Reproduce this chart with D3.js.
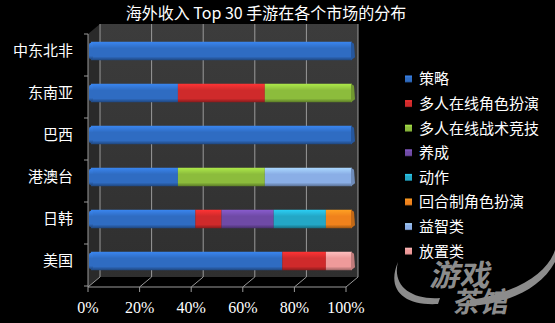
<!DOCTYPE html>
<html lang="zh">
  <head>
    <meta charset="UTF-8" />
    <title>海外收入 Top 30 手游在各个市场的分布</title>
    <style type="text/css">
      html,
      body {
        margin: 0;
        padding: 0;
        background: #000;
      }
      svg {
        display: block;
      }
      .cn {
        font-family: "Noto Sans CJK SC", "Noto Sans", sans-serif;
      }
    </style>
  </head>
  <body>
    <div id="chart"></div>
    <script src="https://cdn.jsdelivr.net/npm/d3@7/dist/d3.min.js"></script>
    <script>
      // === Data === //

      var markets = ["中东北非", "东南亚", "巴西", "港澳台", "日韩", "美国"];
      var genres = [
        "策略",
        "多人在线角色扮演",
        "多人在线战术竞技",
        "养成",
        "动作",
        "回合制角色扮演",
        "益智类",
        "放置类"
      ];
      var colours = [
        "#2f6cc2",
        "#cf2a2b",
        "#8cbc3c",
        "#6f4aa6",
        "#23a7c6",
        "#f0821c",
        "#8aaee6",
        "#ee9a9a"
      ];
      // share of each genre per market, in %, same order as genres
      var shares = [
        [100, 0, 0, 0, 0, 0, 0, 0],
        [33.3, 33.3, 33.4, 0, 0, 0, 0, 0],
        [100, 0, 0, 0, 0, 0, 0, 0],
        [33.3, 0, 33.3, 0, 0, 0, 33.4, 0],
        [40, 10, 0, 20, 20, 10, 0, 0],
        [73.3, 16.7, 0, 0, 0, 0, 0, 10]
      ];
      var ticks = [0, 20, 40, 60, 80, 100];

      // === Layout === //

      var width = 555,
        height = 323;
      var front = { x0: 88, x1: 346, bottom: 287, top: 34 };
      var depth = { dx: 12, dy: -10 };

      var svg = d3
        .select("#chart")
        .append("svg")
        .attr("width", width)
        .attr("height", height);

      var defs = svg.append("defs");

      colours.forEach(function(c, i) {
        var g = defs
          .append("linearGradient")
          .attr("id", "grad" + i)
          .attr("x1", 0)
          .attr("y1", 0)
          .attr("x2", 0)
          .attr("y2", 1);
        g.append("stop").attr("offset", "0%").attr("stop-color", d3.color(c).brighter(0.6));
        g.append("stop").attr("offset", "35%").attr("stop-color", c);
        g.append("stop").attr("offset", "80%").attr("stop-color", c);
        g.append("stop").attr("offset", "100%").attr("stop-color", d3.color(c).darker(1.2));
      });

      var wallGrad = defs
        .append("linearGradient")
        .attr("id", "wall")
        .attr("x1", 0)
        .attr("y1", 0)
        .attr("x2", 0)
        .attr("y2", 1);
      wallGrad.append("stop").attr("offset", "0%").attr("stop-color", "#3c3c3c");
      wallGrad.append("stop").attr("offset", "100%").attr("stop-color", "#2f2f2f");

      // scales
      var xFront = d3.scaleLinear().domain([0, 100]).range([front.x0, front.x1]);
      var xBar = d3.scaleLinear().domain([0, 100]).range([91, 352]);
      var y = d3
        .scaleBand()
        .domain(markets)
        .range([30, 282])
        .paddingInner(0.56)
        .paddingOuter(0.28);

      // === Walls === //

      var backTop = front.top + depth.dy;
      var backBottom = front.bottom + depth.dy;

      svg
        .append("rect")
        .attr("x", front.x0 + depth.dx)
        .attr("y", backTop)
        .attr("width", front.x1 - front.x0)
        .attr("height", backBottom - backTop)
        .attr("fill", "url(#wall)");

      svg
        .append("path")
        .attr(
          "d",
          "M" + front.x0 + "," + front.top +
            "L" + (front.x0 + depth.dx) + "," + backTop +
            "L" + (front.x0 + depth.dx) + "," + backBottom +
            "L" + front.x0 + "," + front.bottom + "Z"
        )
        .attr("fill", "#2a2a2a");

      // gridlines on back wall
      svg
        .selectAll("line.grid")
        .data(ticks)
        .enter()
        .append("line")
        .attr("class", "grid")
        .attr("x1", function(d) { return xFront(d) + depth.dx; })
        .attr("x2", function(d) { return xFront(d) + depth.dx; })
        .attr("y1", backTop)
        .attr("y2", backBottom)
        .attr("stroke", "#9a9a9a")
        .attr("stroke-width", 1);

      // floor lines
      svg
        .selectAll("line.floor")
        .data(ticks)
        .enter()
        .append("line")
        .attr("class", "floor")
        .attr("x1", function(d) { return xFront(d); })
        .attr("y1", front.bottom)
        .attr("x2", function(d) { return xFront(d) + depth.dx; })
        .attr("y2", backBottom)
        .attr("stroke", "#9a9a9a");

      svg
        .selectAll("line.ftick")
        .data(ticks)
        .enter()
        .append("line")
        .attr("class", "ftick")
        .attr("x1", function(d) { return xFront(d); })
        .attr("y1", front.bottom)
        .attr("x2", function(d) { return xFront(d); })
        .attr("y2", front.bottom + 5)
        .attr("stroke", "#9a9a9a");

      svg
        .append("line")
        .attr("x1", front.x0)
        .attr("x2", front.x1)
        .attr("y1", front.bottom)
        .attr("y2", front.bottom)
        .attr("stroke", "#9a9a9a");

      // left axis
      svg
        .append("line")
        .attr("x1", front.x0)
        .attr("x2", front.x0)
        .attr("y1", front.top)
        .attr("y2", front.bottom)
        .attr("stroke", "#9a9a9a");

      var bounds = markets.map(function(m) { return y(m) - (y.step() - y.bandwidth()) / 2; });
      bounds.push(282);
      svg
        .selectAll("line.ytick")
        .data(bounds)
        .enter()
        .append("line")
        .attr("class", "ytick")
        .attr("x1", front.x0 - 4)
        .attr("x2", front.x0)
        .attr("y1", function(d) { return d + 4; })
        .attr("y2", function(d) { return d + 4; })
        .attr("stroke", "#9a9a9a");

      // === Bars === //

      var stacked = [];
      shares.forEach(function(row, mi) {
        var acc = 0;
        var last = -1;
        row.forEach(function(v, gi) { if (v > 0) last = gi; });
        row.forEach(function(v, gi) {
          if (v > 0) {
            stacked.push({ market: markets[mi], genre: gi, x0: acc, x1: acc + v, last: gi === last });
            acc += v;
          }
        });
      });

      var bars = svg.append("g");

      bars
        .selectAll("rect")
        .data(stacked)
        .enter()
        .append("rect")
        .attr("x", function(d) { return xBar(d.x0); })
        .attr("y", function(d) { return y(d.market); })
        .attr("width", function(d) { return xBar(d.x1) - xBar(d.x0); })
        .attr("height", y.bandwidth())
        .attr("fill", function(d) { return "url(#grad" + d.genre + ")"; });

      // rounded end caps
      bars
        .selectAll("path.cap")
        .data(stacked.filter(function(d) { return d.last; }))
        .enter()
        .append("path")
        .attr("class", "cap")
        .attr("d", function(d) {
          var x = xBar(d.x1),
            t = y(d.market),
            h = y.bandwidth();
          return "M" + (x - 1) + "," + t + "L" + (x + 2) + "," + (t + 2) + "L" + (x + 3) + "," + (t + h - 3) + "L" + (x - 1) + "," + (t + h) + "Z";
        })
        .attr("fill", function(d) { return d3.color(colours[d.genre]).darker(0.6); });

      // left rounded ends
      bars
        .selectAll("rect.start")
        .data(markets)
        .enter()
        .append("rect")
        .attr("class", "start")
        .attr("x", xBar(0) - 2)
        .attr("y", function(d) { return y(d) + 1; })
        .attr("width", 4)
        .attr("height", y.bandwidth() - 2)
        .attr("rx", 2)
        .attr("fill", "url(#grad0)");

      // === Labels === //

      svg
        .selectAll("text.market")
        .data(markets)
        .enter()
        .append("text")
        .attr("class", "cn")
        .attr("x", 73)
        .attr("y", function(d) { return y(d) + y.bandwidth() / 2; })
        .attr("dy", "0.36em")
        .attr("text-anchor", "end")
        .attr("fill", "#fff")
        .attr("font-size", 15)
        .text(function(d) { return d; });

      svg
        .selectAll("text.tick")
        .data(ticks)
        .enter()
        .append("text")
        .attr("x", function(d) { return xFront(d); })
        .attr("y", 313)
        .attr("text-anchor", "middle")
        .attr("fill", "#fff")
        .attr("font-family", "Liberation Serif, serif")
        .attr("font-size", 16)
        .text(function(d) { return d + "%"; });

      svg
        .append("text")
        .attr("class", "cn")
        .attr("x", 266)
        .attr("y", 19)
        .attr("text-anchor", "middle")
        .attr("fill", "#fff")
        .attr("font-size", 16)
        .text("海外收入 Top 30 手游在各个市场的分布");

      // === Legend === //

      var legend = svg
        .selectAll("g.legend")
        .data(genres)
        .enter()
        .append("g")
        .attr("class", "legend")
        .attr("transform", function(d, i) { return "translate(405," + (79 + i * 24.6) + ")"; });

      legend
        .append("rect")
        .attr("x", 0)
        .attr("y", -3.5)
        .attr("width", 7)
        .attr("height", 7)
        .attr("fill", function(d, i) { return "url(#grad" + i + ")"; });

      legend
        .append("text")
        .attr("class", "cn")
        .attr("x", 14)
        .attr("dy", "0.36em")
        .attr("fill", "#fff")
        .attr("font-size", 15)
        .text(function(d) { return d; });

      // === Watermark === //

      var mark = svg.append("g").attr("fill", "#8c8c8c");
      mark
        .append("path")
        .attr("d", "M398,262 C392,285 410,300 440,298 L438,304 C404,306 386,290 398,262 Z M470,300 C520,292 548,272 555,250 L555,262 C540,290 505,304 470,306 Z");
      mark
        .append("text")
        .attr("class", "cn")
        .attr("x", 430)
        .attr("y", 286)
        .attr("font-size", 30)
        .attr("font-weight", "bold")
        .attr("transform", "skewX(-12)")
        .attr("dx", 60)
        .text("游戏");
      mark
        .append("text")
        .attr("class", "cn")
        .attr("x", 452)
        .attr("y", 312)
        .attr("font-size", 28)
        .attr("font-weight", "bold")
        .attr("transform", "skewX(-12)")
        .attr("dx", 66)
        .text("茶馆");
    </script>
  </body>
</html>
